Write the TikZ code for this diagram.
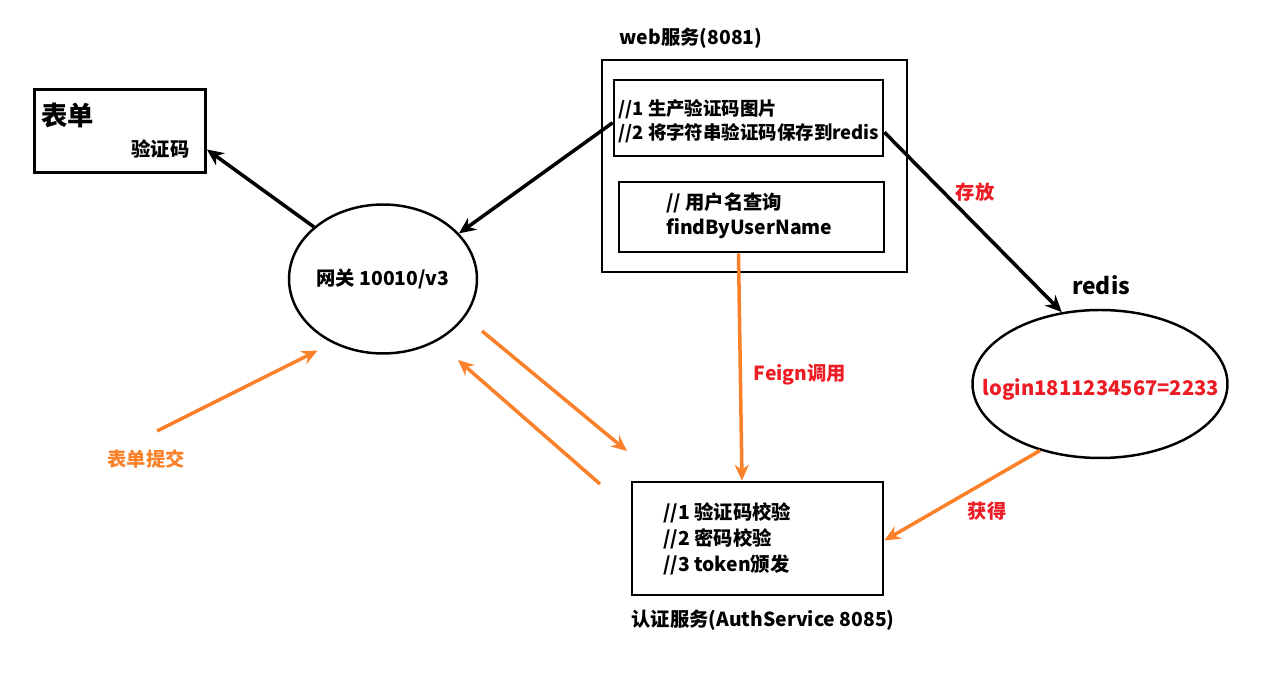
\documentclass[tikz,border=0pt]{standalone}
\usepackage{fontspec}
\setmainfont{Noto Sans CJK SC}
\usepackage{xcolor}
\usetikzlibrary{shapes.geometric, arrows.meta}

\definecolor{callorange}{RGB}{250,128,42}
\definecolor{notered}{RGB}{236,28,36}

\tikzset{
  box/.style={draw=black, line width=1.6pt, rectangle, inner sep=0pt},
  oval/.style={draw=black, line width=1.4pt, ellipse, inner sep=0pt},
  txt/.style={font=\bfseries\fontsize{11}{14.3}\selectfont, inner sep=0pt, align=left},
  redtxt/.style={txt, text=notered},
  blackarrow/.style={line width=2pt, -{Stealth[length=9.5pt,width=8.5pt]}},
  orangearrow/.style={line width=2pt, color=callorange, -{Stealth[length=9pt,width=8pt]}}
}

\begin{document}
\begin{tikzpicture}[x=0.02cm, y=-0.02cm]
		\useasboundingbox (0,0) rectangle (1275,695);
		% form
		\node[box, minimum width=3.42cm, minimum height=1.66cm] (form) at (120,131) {};
		\node[txt, font=\bfseries\fontsize{15}{18}\selectfont, anchor=west] (formtitle) at (41,115) {表单};
		\node[txt, anchor=east] (formcode) at (190,149) {验证码};
		% gateway
		\node[oval, minimum width=3.76cm, minimum height=2.98cm, txt] (gw) at (383,279) {网关 10010/v3};
		% web service
		\node[box, minimum width=6.1cm, minimum height=4.24cm] (web) at (754.5,166) {};
		\node[txt] (weblabel) at (691,38) {web服务(8081)};
		\node[box, minimum width=5.38cm, minimum height=1.52cm] (code) at (748.5,118) {};
		\node[txt, anchor=west, font=\bfseries\fontsize{10.5}{13.6}\selectfont] (codetext) at (618,121) {//1 生产验证码图片\\//2 将字符串验证码保存到redis};
		\node[box, minimum width=5.3cm, minimum height=1.4cm] (query) at (751.5,217) {};
		\node[txt, anchor=west] (querytext) at (666,216) {// 用户名查询\\findByUserName};
		% redis
		\node[oval, minimum width=5.1cm, minimum height=2.96cm] (redis) at (1100,384) {};
		\node[redtxt, font=\bfseries\fontsize{11.5}{14}\selectfont] (rediskey) at (1101,390) {login1811234567=2233};
		\node[txt, font=\bfseries\fontsize{13}{16}\selectfont] (redislabel) at (1101,285) {redis};
		% auth service
		\node[box, minimum width=5.02cm, minimum height=2.26cm] (auth) at (757.5,538.5) {};
		\node[txt, anchor=west, font=\bfseries\fontsize{11}{14.9}\selectfont] (authtext) at (663,539) {//1 验证码校验\\//2 密码校验\\//3 token颁发};
		\node[txt] (authlabel) at (763,620) {认证服务(AuthService 8085)};
		% free ends
		\coordinate (submit) at (157,431);
		\coordinate (toauth) at (482,331);
		\coordinate (toauthend) at (627,451);
		\coordinate (fromauth) at (600,484);
		\coordinate (fromauthend) at (458,360);
		% black arrows
		\draw[blackarrow] (gw.143) -- (form.-12.5);
		\draw[blackarrow] (code.182) -- (gw.31);
		\draw[blackarrow] (code.-6) -- (redis.118);
		\node[redtxt] (storelabel) at (975,192) {存放};
		% orange arrows
		\draw[orangearrow] ([xshift=-0.26cm]query.south) -- ([xshift=-0.31cm]auth.north);
		\node[redtxt] (feignlabel) at (800,375) {Feign调用};
		\draw[orangearrow] (submit) -- ([xshift=-0.2cm,yshift=-0.2cm]gw.228);
		\node[txt, text=callorange] (submitlabel) at (146,459) {表单提交};
		\draw[orangearrow] (toauth) -- (toauthend);
		\draw[orangearrow] (fromauth) -- (fromauthend);
		\draw[orangearrow] (redis.228) -- ([yshift=-0.04cm]auth.east);
		\node[redtxt] (getlabel) at (987,511) {获得};
\end{tikzpicture}
\end{document}
